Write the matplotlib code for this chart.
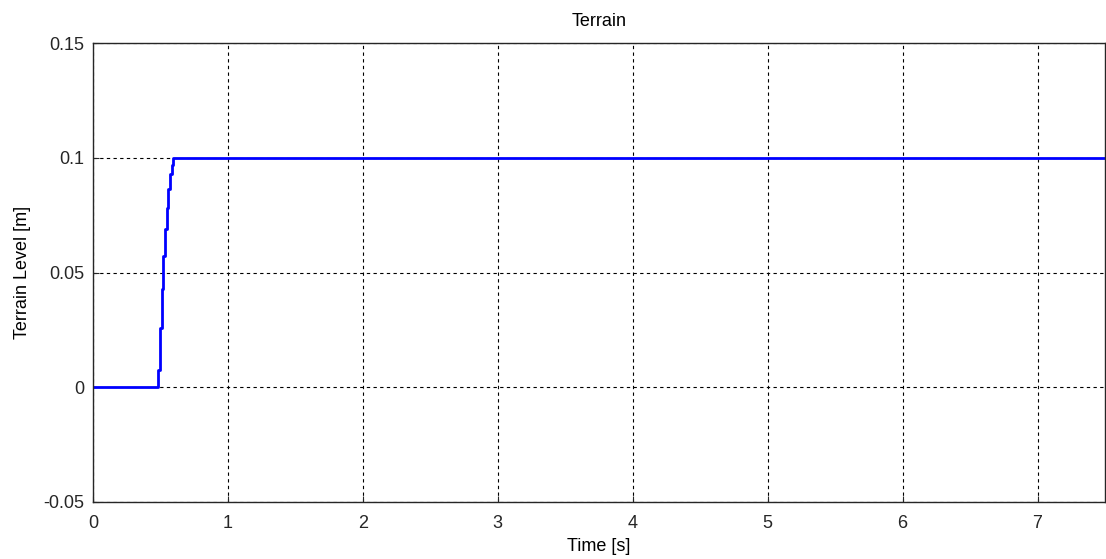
import numpy as np
import matplotlib.pyplot as plt

plt.rcParams['font.family'] = ['Liberation Sans', 'DejaVu Sans']

# terrain profile: sampled ramp from 0 to 0.1 m between ~0.48 s and ~0.6 s
time_s = [0.0, 0.484, 0.496, 0.508, 0.521, 0.533, 0.546, 0.558, 0.570, 0.583, 0.595, 7.5]
level_m = [0.0, 0.0074, 0.026, 0.043, 0.057, 0.069, 0.078, 0.0865, 0.093, 0.097, 0.1, 0.1]

xticks = [0, 1, 2, 3, 4, 5, 6, 7]
yticks = [-0.05, 0, 0.05, 0.1, 0.15]
ytick_labels = ['-0.05', '0', '0.05', '0.1', '0.15']

fig = plt.figure(figsize=(11.06, 5.59), dpi=100)
ax = fig.add_axes([93 / 1106, 1 - 502 / 559, 1012 / 1106, 459 / 559])

ax.plot(time_s, level_m, color='#0000ff', linewidth=2.0, drawstyle='steps-post')

ax.set_xlim(0, 7.5)
ax.set_ylim(-0.05, 0.15)
ax.set_xticks(xticks)
ax.set_yticks(yticks)
ax.set_yticklabels(ytick_labels)
ax.grid(True, color='black', linestyle=(0, (3, 3)), linewidth=0.8)
ax.tick_params(direction='in', length=4, labelsize=13, colors='#262626')
ax.tick_params(axis='x', pad=9)
ax.tick_params(axis='y', pad=6)
for s in ax.spines.values():
    s.set_color('#262626')
    s.set_linewidth(1.0)

ax.set_title('Terrain', fontsize=13, pad=12)
ax.set_xlabel('Time [s]', fontsize=13, labelpad=5)
ax.set_ylabel('Terrain Level [m]', fontsize=13, labelpad=9)

fig.savefig('out.png', dpi=100)
